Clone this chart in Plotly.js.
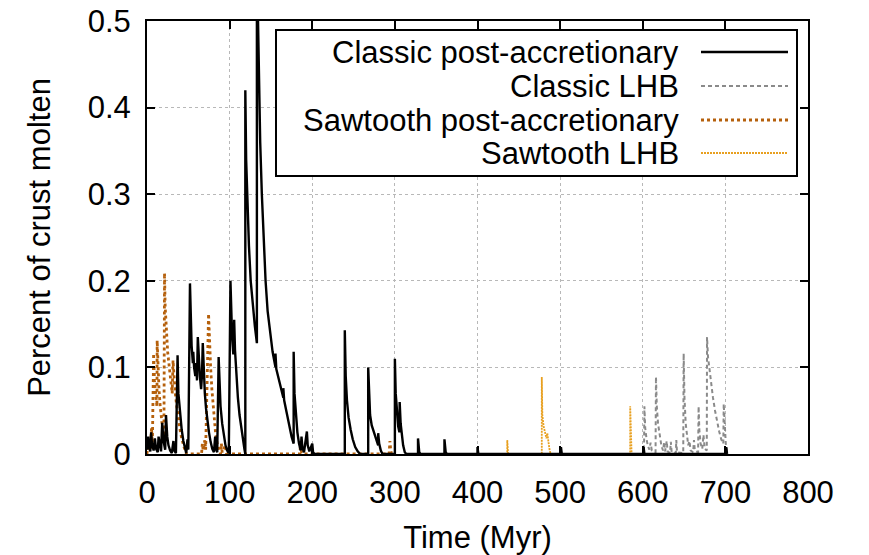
<!DOCTYPE html>
<html>
<head>
<meta charset="utf-8">
<script src="https://cdn.plot.ly/plotly-3.0.1.min.js"></script>
<style>html,body{margin:0;padding:0;background:#fff;}#chart{width:869px;height:555px;}</style>
</head>
<body>
<div id="chart"></div>
<script>
// ---- Data ----
const seriesNames = ["Classic post-accretionary", "Classic LHB", "Sawtooth post-accretionary", "Sawtooth LHB"];

const classicPostT = [0,1.5,2.5,4,5,6,8,9.5,11,13,14,15.5,17,18.4,20,22,23,24.5,26,28,30,32,33,35,
  37,38,40,42,44,46,47.5,49,50,
  52,53,54,55.5,56,57,58.5,59.5,60.5,61.5,62.5,63.5,64,65.5,66.5,67.5,68.5,69.5,70,71.5,73,75,77,79,81,82.5,83.5,85,
  86.7,87.5,89,91,93,95,97,99,
  101,102,103,104.5,105.5,106.5,108,110,112,114,116,118,119,
  119,120,121.5,123.4,125.5,128,130.5,133,
  133,134,135.5,137,139,141,143.5,146,149,152,155.5,155.5,156.5,159,162,165,165,166,169,172,175,177.5,
  177.5,178.5,180,182,184,186,187,188,190,193.5,194.5,196.5,200,201,203,
  239.4,239.4,240.5,242,244,246.5,249,252,255,258,
  267.7,267.7,268.7,270,272,274,276,278,279.8,279.8,281,283,285,
  300,300,301,302.5,304,305.5,305.8,307,308.5,310,312,314,
  328,328,329.5,331,360,360,361.5,363,400,400,401,501,501,502,601,601,602,701,701,702];
const classicPostV = [0.005,0.02,0.008,0.003,0.025,0.012,0.004,0.018,0.006,0.002,0.02,0.008,0.003,0.036,0.015,0.005,0.045,0.02,0.01,0.004,0.001,0.015,0.004,0.001,
  0.114,0.07,0.045,0.028,0.015,0.006,0.001,0.017,0.005,
  0.197,0.15,0.125,0.105,0.118,0.1,0.09,0.105,0.085,0.135,0.11,0.1,0.09,0.075,0.09,0.128,0.095,0.085,0.07,0.052,0.038,0.025,0.014,0.006,0.002,0.02,0.006,0.002,
  0.112,0.08,0.055,0.035,0.02,0.01,0.004,0.001,
  0.2,0.16,0.135,0.115,0.155,0.12,0.09,0.065,0.045,0.03,0.016,0.005,0,
  0.42,0.34,0.28,0.24,0.2,0.172,0.148,0.128,
  0.65,0.52,0.43,0.36,0.3,0.25,0.2,0.165,0.138,0.118,0.1,0.116,0.098,0.088,0.075,0.065,0.076,0.062,0.048,0.033,0.02,0.012,
  0.118,0.07,0.045,0.025,0.012,0.004,0.02,0.008,0.002,0.026,0.01,0.003,0.012,0.002,0,
  0,0.143,0.09,0.062,0.042,0.028,0.017,0.008,0.003,0,
  0,0.1,0.065,0.045,0.033,0.027,0.02,0.014,0.01,0.024,0.012,0.004,0,
  0,0.11,0.07,0.045,0.032,0.025,0.06,0.035,0.02,0.01,0.002,0,
  0,0.018,0.002,0,0,0.017,0.002,0,0,0.008,0,0,0.008,0,0,0.008,0,0,0.008,0];

const classicLhbT = [590,601.5,602,603,604.5,606,608,609.5,611,615.5,616,617,618.5,620.5,622.5,624.5,626,627,629,630,633,634,635,640,640.6,641.5,
  649,649.5,650.5,652,653.5,655,656.5,658,661,662,663,667,667.6,668.5,670,672,673.5,675,677.5,677.8,679,681,683,685,687.5,690,692.5,695,697.5,698,699,700.5,702,704];
const classicLhbV = [0,0,0.055,0.03,0.018,0.01,0.005,0.013,0.004,0.002,0.089,0.055,0.035,0.02,0.01,0.004,0.014,0.003,0.015,0.003,0.001,0.014,0.002,0.001,0.016,0.002,
  0.001,0.116,0.065,0.035,0.018,0.01,0.015,0.004,0.002,0.016,0.004,0.002,0.055,0.028,0.012,0.006,0.022,0.006,0.004,0.135,0.112,0.095,0.08,0.065,0.05,0.037,0.026,0.017,0.012,0.058,0.03,0.012,0.002,0];

const sawPostT = [0,1,2,3,4,5.5,6.5,8,9,10.5,12,12.3,13.3,14.5,16,17.5,19,20.5,21.2,22,23.5,25,27,29,30.5,31.5,32.5,34,36,38,40,42,44,46,48,
  66,67,68,70,71,74.5,75.5,77,78.5,80,81.5,83,85,87,89,90,91,95,96,98,185,186,187,189,293,294,295,296];
const sawPostV = [0,0.012,0.004,0.016,0.006,0.03,0.01,0.116,0.085,0.065,0.055,0.131,0.1,0.075,0.055,0.04,0.028,0.02,0.209,0.17,0.14,0.118,0.1,0.082,0.07,0.108,0.09,0.072,0.055,0.04,0.028,0.018,0.01,0.004,0,
  0,0.012,0.004,0.016,0.005,0.162,0.13,0.1,0.075,0.055,0.038,0.024,0.012,0.004,0,0.012,0.002,0.01,0.001,0,0,0.015,0.002,0,0,0.015,0.004,0];

const sawLhbT = [420,436,436,437,477.8,477.8,478.5,480,482,483.5,484.5,485.5,487,488.5,584.8,584.8,585.5,586.5,600];
const sawLhbV = [0,0,0.016,0,0,0.089,0.045,0.032,0.025,0.018,0.024,0.016,0.006,0,0,0.055,0.02,0,0];

const xTickVals = [0,100,200,300,400,500,600,700,800];
const yTickVals = [0,0.1,0.2,0.3,0.4,0.5];

// ---- Styles ----
const colors = ["#000000", "#8a8a8a", "#b5600c", "#e8a020"];
const dashes = ["solid", "4px,3px", "dot", "2px,1px"];
const widths = [2.4, 2, 2.8, 1.8];
const FONT = "Liberation Sans, Arial, Helvetica, sans-serif";

const seriesData = [[classicPostT, classicPostV],[classicLhbT, classicLhbV],[sawPostT, sawPostV],[sawLhbT, sawLhbV]];
const drawOrder = [1, 3, 2, 0];
const traces = drawOrder.map(i => ({
  x: seriesData[i][0], y: seriesData[i][1], type: "scatter", mode: "lines",
  name: seriesNames[i], line: {color: colors[i], dash: dashes[i], width: widths[i]},
  showlegend: false, hoverinfo: "skip"
}));

// custom legend (text right-aligned, sample on the right, like the original)
const L = 147, R = 808, T = 21, B = 454;
const px = v => (v - L) / (R - L);
const py = v => (B - v) / (B - T);
const rowY = [52, 86, 120, 153];
const shapes = [{type: "rect", xref: "paper", yref: "paper", x0: px(276), x1: px(797), y0: py(176), y1: py(30),
  line: {color: "#000", width: 2}, fillcolor: "#fff", layer: "above"}];
const annotations = [];
rowY.forEach((yy, i) => {
  shapes.push({type: "line", xref: "paper", yref: "paper", x0: px(701), x1: px(788), y0: py(yy), y1: py(yy),
    line: {color: colors[i], dash: dashes[i], width: widths[i]}, layer: "above"});
  annotations.push({xref: "paper", yref: "paper", x: px(681), y: py(yy), xanchor: "right", yanchor: "middle",
    text: seriesNames[i], showarrow: false, font: {family: FONT, size: 31, color: "#000"}});
});

const axisCommon = {
  showline: true, linecolor: "#000", linewidth: 2, mirror: "ticks",
  ticks: "inside", ticklen: 8, tickwidth: 2, tickcolor: "#000",
  showgrid: true, gridcolor: "#b8b8b8", griddash: "dot", gridwidth: 1,
  zeroline: false, tickfont: {family: FONT, size: 31, color: "#000"}
};

const layout = {
  width: 869, height: 555,
  margin: {l: L, r: 869 - R, t: T, b: 555 - B},
  paper_bgcolor: "#fff", plot_bgcolor: "#fff",
  showlegend: false,
  xaxis: Object.assign({}, axisCommon, {
    range: [0, 800], tickvals: xTickVals, ticktext: xTickVals.map(String),
    ticklabelstandoff: 10,
    title: {text: "Time (Myr)", font: {family: FONT, size: 31, color: "#000"}, standoff: 18}
  }),
  yaxis: Object.assign({}, axisCommon, {
    range: [0, 0.5], tickvals: yTickVals, ticktext: yTickVals.map(String),
    ticklabelstandoff: 8,
    title: {text: "Percent of crust molten", font: {family: FONT, size: 31, color: "#000"}, standoff: 28}
  }),
  shapes: shapes,
  annotations: annotations
};

Plotly.newPlot("chart", traces, layout, {staticPlot: true, displayModeBar: false});
</script>
</body>
</html>
